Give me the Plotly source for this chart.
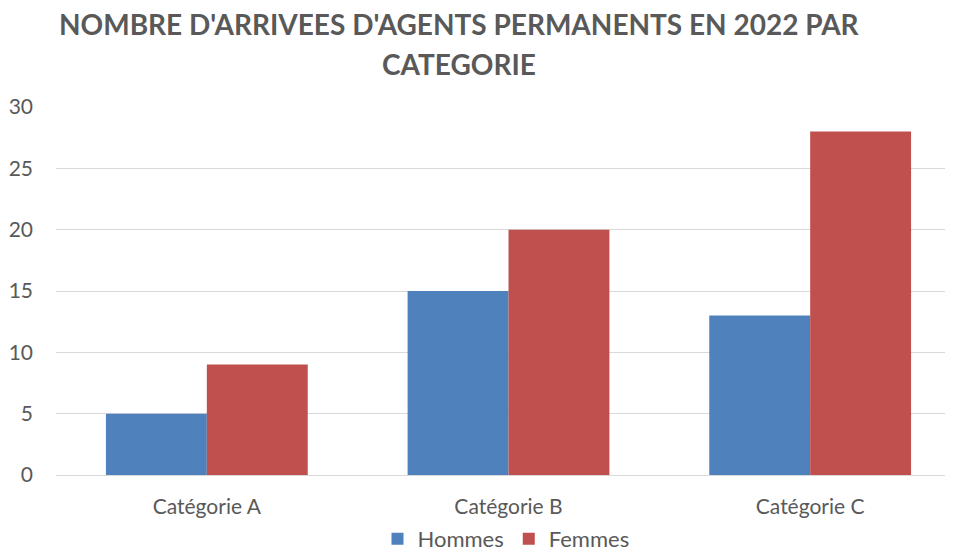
import plotly.graph_objects as go

categories = ["Catégorie A", "Catégorie B", "Catégorie C"]
hommes = [5, 15, 13]
femmes = [9, 20, 28]
title_lines = ["NOMBRE D'ARRIVEES D'AGENTS PERMANENTS EN 2022 PAR", "CATEGORIE"]
y_ticks = [0, 5, 10, 15, 20, 25, 30]

W, H = 953, 551
FONT = "Lato, Carlito, Calibri, sans-serif"
GRAY = "#595959"
# page body has an 8px margin; plot div coords = page coords - 8
ML, MT, MB = 48, 99, 84
PH = H - MT - MB
PW = W - ML

fig = go.Figure()
fig.add_trace(go.Bar(name="Hommes", x=categories, y=hommes, marker=dict(color="#4F81BD", line=dict(width=0))))
fig.add_trace(go.Bar(name="Femmes", x=categories, y=femmes, marker=dict(color="#C0504D", line=dict(width=0))))

annotations = []
for i, t in enumerate(title_lines):
    annotations.append(dict(
        text=f"<b>{t}</b>", xref="paper", yref="paper", x=(451 - ML) / PW,
        y=1 + (MT - (16 + 40 * i)) / PH, xanchor="center", yanchor="middle",
        showarrow=False, font=dict(family=FONT, size=28, color=GRAY)))

fig.update_layout(
    width=W, height=H,
    margin=dict(l=ML, r=0, t=MT, b=MB, autoexpand=False),
    paper_bgcolor="white", plot_bgcolor="white",
    barmode="group", bargap=0.331, bargroupgap=0,
    font=dict(family=FONT, size=21, color=GRAY),
    annotations=annotations,
    showlegend=True,
    legend=dict(orientation="h", x=(498 - ML) / PW, xanchor="center",
                y=-(531 - (MT + PH)) / PH, yanchor="middle", font=dict(size=22, color=GRAY),
                itemwidth=30, traceorder="normal"),
    xaxis=dict(range=[-0.5, 2.5], showgrid=False, showline=False, ticks="", automargin=False,
               tickfont=dict(size=21, color=GRAY), ticklabelstandoff=17),
    yaxis=dict(range=[0, 30], tickvals=y_ticks, showgrid=True, gridcolor="#D9D9D9", gridwidth=1,
               zeroline=True, zerolinecolor="#D9D9D9", zerolinewidth=1, showline=False, automargin=False,
               tickfont=dict(size=21, color=GRAY), ticks="", ticklabelstandoff=22),
)

fig.write_html("out.html")
